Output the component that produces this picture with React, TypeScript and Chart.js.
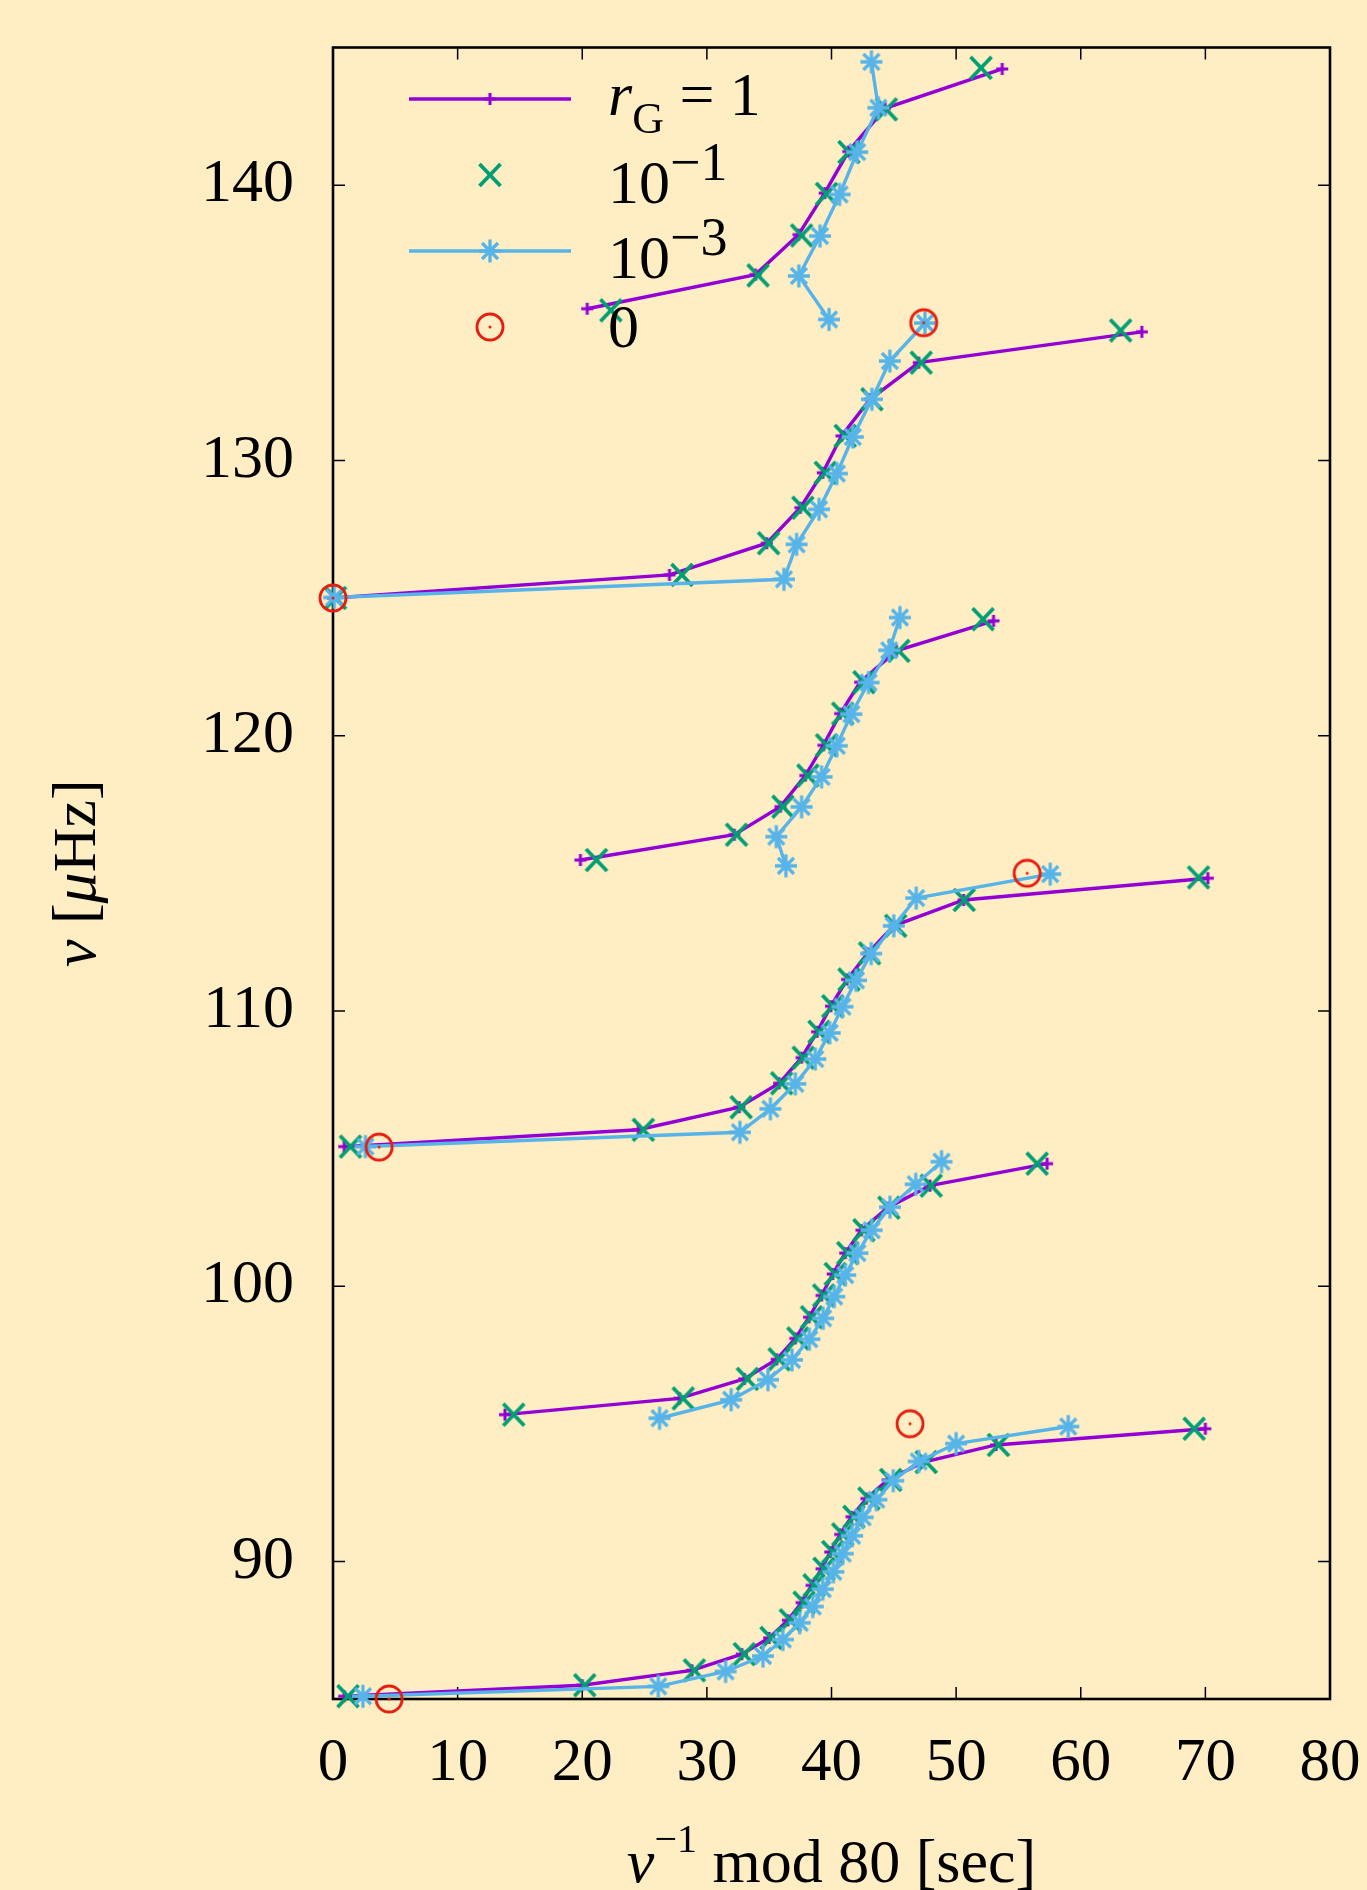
import React, { useEffect, useRef } from 'react';
import { Chart, registerables } from 'chart.js';

Chart.register(...registerables);

// ---------------- data ----------------
const xTicks = [0, 10, 20, 30, 40, 50, 60, 70, 80];
const yTicks = [90, 100, 110, 120, 130, 140];

// r_G = 1 (groups separated by null)
const rG1X = [
  0.9, 20.0, 28.8, 32.8, 35.0, 36.5, 37.6, 38.4, 39.2, 39.9, 40.7, 41.6, 42.8, 44.5, 47.4, 53.2, 70.0, null,
  13.8, 27.8, 33.0, 35.6, 37.1, 38.2, 39.2, 40.1, 41.1, 42.4, 44.5, 47.9, 57.3, null,
  0.9, 24.5, 32.6, 35.8, 37.6, 38.85, 39.95, 41.25, 42.9, 45.0, 50.6, 70.2, null,
  19.85, 32.2, 35.9, 37.9, 39.35, 40.7, 42.3, 45.2, 53.0, null,
  0.0, 27.0, 34.8, 37.5, 39.3, 40.8, 43.1, 47.0, 64.9, null,
  20.4, 33.9, 37.35, 39.45, 41.35, 44.3, 53.7,
];
const rG1Y = [
  85.1, 85.5, 86.04, 86.63, 87.22, 87.86, 88.5, 89.13, 89.73, 90.34, 90.98, 91.62, 92.28, 92.96, 93.61, 94.23, 94.82, null,
  95.33, 95.92, 96.63, 97.34, 98.1, 98.87, 99.66, 100.44, 101.2, 102.03, 102.85, 103.65, 104.45, null,
  105.07, 105.68, 106.5, 107.37, 108.3, 109.24, 110.17, 111.14, 112.09, 113.09, 114.03, 114.82, null,
  115.48, 116.4, 117.42, 118.55, 119.65, 120.8, 121.94, 123.08, 124.17, null,
  125.0, 125.84, 126.99, 128.28, 129.55, 130.89, 132.22, 133.55, 134.67, null,
  135.51, 136.75, 138.2, 139.71, 141.22, 142.79, 144.22,
];

// r_G = 10^-1
const rG01X = [
  1.2, 20.2, 29.0, 33.0, 35.15, 36.7, 37.8, 38.6, 39.4, 40.1, 40.9, 41.8, 43.0, 44.75, 47.6, 53.4, 69.1, null,
  14.5, 28.1, 33.25, 35.8, 37.3, 38.4, 39.37, 40.3, 41.3, 42.6, 44.6, 48.0, 56.5, null,
  1.4, 24.9, 32.75, 36.0, 37.73, 39.0, 40.1, 41.4, 43.05, 45.15, 50.65, 69.45, null,
  21.14, 32.38, 36.1, 38.1, 39.6, 40.9, 42.6, 45.4, 52.16, null,
  0.2, 28.0, 34.95, 37.7, 39.5, 41.1, 43.24, 47.2, 63.2, null,
  22.3, 34.11, 37.6, 39.6, 41.4, 44.4, 52.0,
];
const rG01Y = [
  85.1, 85.5, 86.04, 86.63, 87.22, 87.86, 88.5, 89.13, 89.73, 90.34, 90.98, 91.62, 92.28, 92.96, 93.61, 94.23, 94.82, null,
  95.33, 95.92, 96.63, 97.34, 98.1, 98.87, 99.66, 100.44, 101.2, 102.03, 102.85, 103.65, 104.45, null,
  105.07, 105.68, 106.5, 107.37, 108.3, 109.24, 110.17, 111.14, 112.09, 113.09, 114.03, 114.85, null,
  115.48, 116.4, 117.42, 118.55, 119.65, 120.8, 121.94, 123.08, 124.23, null,
  125.0, 125.84, 126.99, 128.28, 129.55, 130.89, 132.22, 133.55, 134.72, null,
  135.45, 136.72, 138.17, 139.68, 141.2, 142.75, 144.26,
];

// r_G = 10^-3
const rG0001X = [
  2.4, 26.1, 31.5, 34.5, 36.1, 37.45, 38.5, 39.3, 40.15, 40.9, 41.65, 42.5, 43.6, 44.95, 47.0, 50.0, 59.0, null,
  26.2, 31.95, 34.9, 36.83, 38.22, 39.33, 40.22, 41.1, 42.08, 43.22, 44.69, 46.76, 48.83, null,
  2.6, 32.65, 35.1, 37.1, 38.7, 39.85, 40.88, 41.97, 43.18, 45.0, 46.8, 57.55, null,
  36.34, 35.57, 37.6, 39.2, 40.42, 41.59, 42.97, 44.63, 45.49, null,
  0.1, 36.18, 37.2, 39.0, 40.43, 41.71, 43.24, 44.68, 47.5, null,
  39.8, 37.38, 39.08, 40.65, 42.06, 43.76, 43.2,
];
const rG0001Y = [
  85.1, 85.46, 86.0, 86.56, 87.16, 87.77, 88.36, 88.99, 89.62, 90.28, 90.93, 91.6, 92.24, 92.93, 93.63, 94.28, 94.9, null,
  95.2, 95.87, 96.6, 97.32, 98.07, 98.83, 99.62, 100.4, 101.2, 102.03, 102.87, 103.7, 104.52, null,
  105.07, 105.59, 106.44, 107.35, 108.25, 109.2, 110.15, 111.11, 112.08, 113.09, 114.1, 114.97, null,
  115.27, 116.33, 117.41, 118.5, 119.63, 120.78, 121.93, 123.1, 124.29, null,
  125.02, 125.68, 126.95, 128.22, 129.52, 130.85, 132.22, 133.61, 134.99, null,
  135.12, 136.7, 138.15, 139.66, 141.2, 142.81, 144.48,
];

// r_G = 0
const rG0X = [4.5, 46.3, 3.7, 55.7, 0.0, 47.4];
const rG0Y = [85.0, 95.0, 105.05, 115.0, 125.0, 135.0];

// ---------------- styles ----------------
const W = 1367;
const H = 1890;
const BG = '#ffeec4';
const PURPLE = '#9400d3';
const GREEN = '#009e73';
const BLUE = '#56b4e9';
const RED = '#e51e10';
const FONT = '"Liberation Serif", "Times New Roman", serif';

function pts(xs: (number | null)[], ys: (number | null)[]) {
  return xs.map((x, i) => ({ x: x as any, y: ys[i] as any }));
}

function mk(size: number, draw: (c: CanvasRenderingContext2D, m: number) => void) {
  const cv = document.createElement('canvas');
  cv.width = size;
  cv.height = size;
  const c = cv.getContext('2d')!;
  draw(c, size / 2);
  return cv;
}

function makeMarkers() {
  const plus = mk(18, (c, m) => {
    c.strokeStyle = PURPLE;
    c.lineWidth = 3;
    c.beginPath();
    c.moveTo(m - 6, m); c.lineTo(m + 6, m);
    c.moveTo(m, m - 6); c.lineTo(m, m + 6);
    c.stroke();
  });
  const cross = mk(30, (c, m) => {
    c.strokeStyle = GREEN;
    c.lineWidth = 3.8;
    c.beginPath();
    c.moveTo(m - 10.5, m - 11); c.lineTo(m + 10.5, m + 11);
    c.moveTo(m + 10.5, m - 11); c.lineTo(m - 10.5, m + 11);
    c.stroke();
  });
  const star = mk(30, (c, m) => {
    c.strokeStyle = BLUE;
    c.lineWidth = 3.3;
    c.beginPath();
    c.moveTo(m - 11, m); c.lineTo(m + 11, m);
    c.moveTo(m, m - 11.5); c.lineTo(m, m + 11.5);
    c.moveTo(m - 8, m - 8); c.lineTo(m + 8, m + 8);
    c.moveTo(m + 8, m - 8); c.lineTo(m - 8, m + 8);
    c.stroke();
  });
  const circ = mk(36, (c, m) => {
    c.strokeStyle = RED;
    c.lineWidth = 2.9;
    c.beginPath();
    c.arc(m, m, 13, 0, Math.PI * 2);
    c.stroke();
    c.fillStyle = RED;
    c.beginPath();
    c.arc(m, m, 1.5, 0, Math.PI * 2);
    c.fill();
  });
  return { plus, cross, star, circ };
}

type Run = { t: string; size: number; italic?: boolean; dy?: number };

function drawRuns(ctx: CanvasRenderingContext2D, runs: Run[], x: number, y: number, center: boolean) {
  const fnt = (r: Run) => `${r.italic ? 'italic ' : ''}${r.size}px ${FONT}`;
  const widths = runs.map((r) => {
    ctx.font = fnt(r);
    return ctx.measureText(r.t).width;
  });
  const total = widths.reduce((a, b) => a + b, 0);
  let cx = center ? x - total / 2 : x;
  ctx.textAlign = 'left';
  ctx.textBaseline = 'alphabetic';
  runs.forEach((r, i) => {
    ctx.font = fnt(r);
    ctx.fillText(r.t, cx, y + (r.dy || 0));
    cx += widths[i];
  });
}

export default function App() {
  const ref = useRef<HTMLCanvasElement | null>(null);

  useEffect(() => {
    document.body.style.margin = '0';
    document.body.style.background = BG;
    const canvas = ref.current!;
    const mks = makeMarkers();

    const decor = {
      id: 'decor',
      beforeDraw(chart: any) {
        const ctx = chart.ctx;
        ctx.save();
        ctx.fillStyle = BG;
        ctx.fillRect(0, 0, chart.width, chart.height);
        ctx.restore();
      },
      beforeDatasetsDraw(chart: any) {
        const { ctx, chartArea: a, scales } = chart;
        const xs = scales.x;
        const ys = scales.y;
        ctx.save();
        ctx.strokeStyle = '#000';
        ctx.lineWidth = 1.5;
        ctx.beginPath();
        for (const v of xTicks) {
          const p = xs.getPixelForValue(v);
          ctx.moveTo(p, a.bottom); ctx.lineTo(p, a.bottom - 12);
          ctx.moveTo(p, a.top); ctx.lineTo(p, a.top + 12);
        }
        for (const v of yTicks) {
          const p = ys.getPixelForValue(v);
          ctx.moveTo(a.left, p); ctx.lineTo(a.left + 12, p);
          ctx.moveTo(a.right, p); ctx.lineTo(a.right - 12, p);
        }
        ctx.stroke();
        ctx.lineWidth = 2.6;
        ctx.strokeRect(a.left, a.top, a.right - a.left, a.bottom - a.top);
        ctx.restore();
      },
      afterDraw(chart: any) {
        const { ctx, chartArea: a } = chart;
        ctx.save();
        ctx.fillStyle = '#000';
        // x title
        drawRuns(ctx, [
          { t: 'ν', size: 62, italic: true },
          { t: '−1', size: 40, dy: -30 },
          { t: ' mod 80 [sec]', size: 62 },
        ], (a.left + a.right) / 2, 1882, true);
        // y title
        ctx.save();
        ctx.translate(95, (a.top + a.bottom) / 2);
        ctx.rotate(-Math.PI / 2);
        drawRuns(ctx, [
          { t: 'ν', size: 62, italic: true },
          { t: ' [', size: 62 },
          { t: 'μ', size: 62, italic: true },
          { t: 'Hz]', size: 62 },
        ], 0, 0, true);
        ctx.restore();

        // legend
        const lx1 = 409, lx2 = 571, mx = 490, tx = 608;
        const rows = [99, 175, 251, 327];
        ctx.lineWidth = 3.4;
        ctx.strokeStyle = PURPLE;
        ctx.beginPath(); ctx.moveTo(lx1, rows[0]); ctx.lineTo(lx2, rows[0]); ctx.stroke();
        ctx.drawImage(mks.plus, mx - mks.plus.width / 2, rows[0] - mks.plus.height / 2);
        ctx.drawImage(mks.cross, mx - mks.cross.width / 2, rows[1] - mks.cross.height / 2);
        ctx.strokeStyle = BLUE;
        ctx.beginPath(); ctx.moveTo(lx1, rows[2]); ctx.lineTo(lx2, rows[2]); ctx.stroke();
        ctx.drawImage(mks.star, mx - mks.star.width / 2, rows[2] - mks.star.height / 2);
        ctx.drawImage(mks.circ, mx - mks.circ.width / 2, rows[3] - mks.circ.height / 2);

        ctx.fillStyle = '#000';
        drawRuns(ctx, [
          { t: 'r', size: 62, italic: true },
          { t: 'G', size: 44, dy: 18 },
          { t: ' = 1', size: 62 },
        ], tx, rows[0] + 16, false);
        drawRuns(ctx, [
          { t: '10', size: 62 },
          { t: '−1', size: 54, dy: -23 },
        ], tx, rows[1] + 28, false);
        drawRuns(ctx, [
          { t: '10', size: 62 },
          { t: '−3', size: 54, dy: -23 },
        ], tx, rows[2] + 27, false);
        drawRuns(ctx, [{ t: '0', size: 62 }], tx, rows[3] + 20, false);
        ctx.restore();
      },
    };

    const common = {
      clip: false as any,
      spanGaps: false,
      pointRadius: 6,
      pointHoverRadius: 6,
      tension: 0,
      fill: false,
    };

    const chart = new Chart(canvas, {
      type: 'scatter',
      data: {
        datasets: [
          {
            ...common,
            label: 'rG = 1',
            data: pts(rG1X, rG1Y),
            showLine: true,
            borderColor: PURPLE,
            borderWidth: 3.4,
            pointStyle: mks.plus as any,
            order: 4,
          },
          {
            ...common,
            label: '10^-1',
            data: pts(rG01X, rG01Y),
            showLine: false,
            borderColor: GREEN,
            pointStyle: mks.cross as any,
            order: 3,
          },
          {
            ...common,
            label: '10^-3',
            data: pts(rG0001X, rG0001Y),
            showLine: true,
            borderColor: BLUE,
            borderWidth: 3.4,
            pointStyle: mks.star as any,
            order: 2,
          },
          {
            ...common,
            label: '0',
            data: pts(rG0X, rG0Y),
            showLine: false,
            borderColor: RED,
            pointStyle: mks.circ as any,
            order: 1,
          },
        ] as any,
      },
      options: {
        animation: false,
        responsive: false,
        devicePixelRatio: 1,
        events: [],
        layout: { padding: { left: 0, top: 47.5, right: 37, bottom: 0 } },
        plugins: { legend: { display: false }, tooltip: { enabled: false }, title: { display: false } },
        scales: {
          x: {
            type: 'linear',
            min: 0,
            max: 80,
            afterBuildTicks: (s: any) => { s.ticks = xTicks.map((v) => ({ value: v })); },
            afterFit: (s: any) => {
              s.height = 191;
              s.paddingLeft = 0; s.paddingRight = 0; s.paddingTop = 0; s.paddingBottom = 0;
            },
            grid: { display: false, drawTicks: false },
            border: { display: false },
            ticks: { font: { family: FONT, size: 61 }, color: '#000', padding: 28, maxRotation: 0, autoSkip: false },
          },
          y: {
            type: 'linear',
            min: 85,
            max: 145,
            afterBuildTicks: (s: any) => { s.ticks = yTicks.map((v) => ({ value: v })); },
            afterFit: (s: any) => {
              s.width = 333;
              s.paddingLeft = 0; s.paddingRight = 0; s.paddingTop = 0; s.paddingBottom = 0;
            },
            grid: { display: false, drawTicks: false },
            border: { display: false },
            ticks: { font: { family: FONT, size: 62 }, color: '#000', padding: 39, autoSkip: false },
          },
        },
      } as any,
      plugins: [decor],
    });
    return () => chart.destroy();
  }, []);

  return (
    <div style={{ width: W, height: H, background: BG }}>
      <canvas ref={ref} width={W} height={H} style={{ display: 'block', width: W, height: H }} />
    </div>
  );
}
